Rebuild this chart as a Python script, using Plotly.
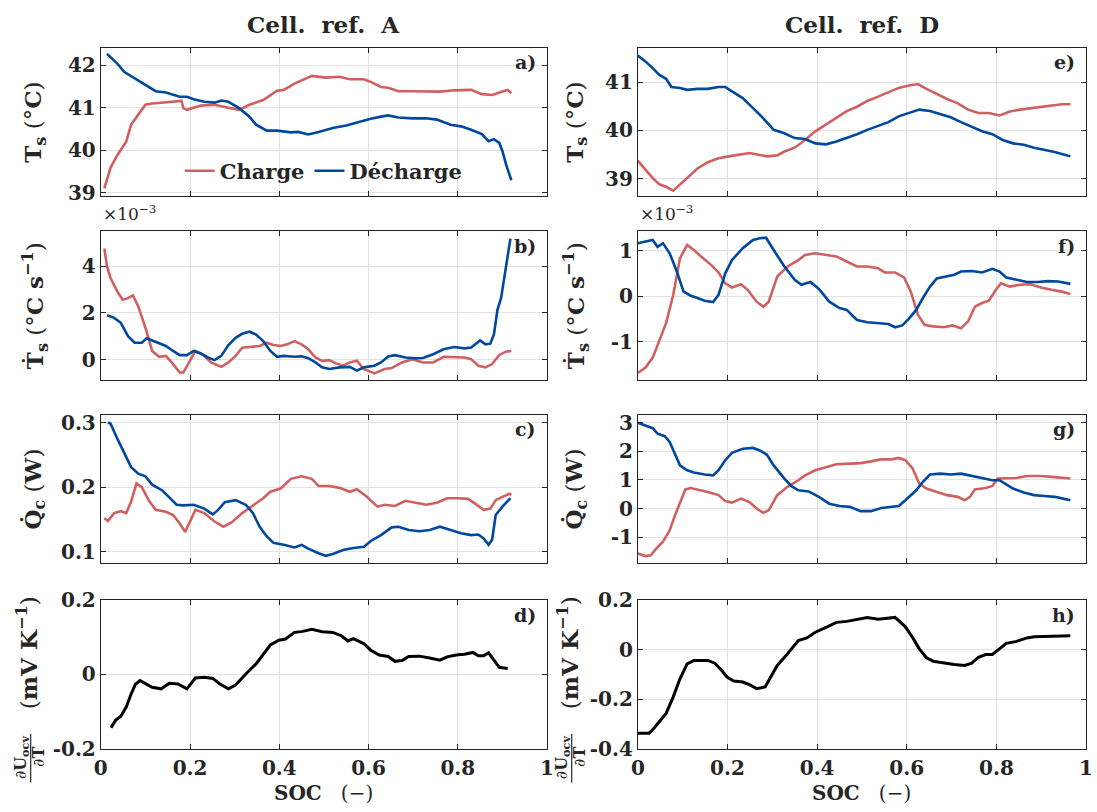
import plotly.graph_objects as go

# ---------------- data ----------------
SOC_TICKS = [0, 0.2, 0.4, 0.6, 0.8, 1]
SOC_TICKTEXT = ["0", "0.2", "0.4", "0.6", "0.8", "1"]

# Cell A - surface temperature (degC)
A_T_charge_soc = [0.008,0.022,0.037,0.057,0.068,0.084,0.100,0.115,0.138,0.170,0.181,0.185,0.193,0.224,0.255,0.286,0.310,0.333,0.364,0.395,0.410,0.434,0.457,0.473,0.504,0.535,0.558,0.589,0.605,0.628,0.644,0.667,0.698,0.729,0.760,0.792,0.830,0.854,0.877,0.900,0.912,0.920]
A_T_charge = [39.10,39.59,39.88,40.20,40.60,40.83,41.07,41.10,41.12,41.16,41.16,40.99,40.95,41.05,41.07,41.00,40.95,41.07,41.18,41.40,41.42,41.57,41.67,41.75,41.71,41.73,41.67,41.67,41.61,41.49,41.47,41.39,41.39,41.38,41.38,41.41,41.42,41.32,41.30,41.38,41.42,41.34]
A_T_dis_soc = [0.014,0.037,0.053,0.076,0.100,0.123,0.146,0.177,0.193,0.208,0.232,0.255,0.270,0.286,0.310,0.333,0.348,0.372,0.395,0.426,0.442,0.465,0.488,0.520,0.550,0.582,0.605,0.628,0.644,0.667,0.698,0.729,0.753,0.784,0.807,0.830,0.854,0.869,0.881,0.893,0.900,0.908,0.920]
A_T_dis = [42.27,42.04,41.84,41.69,41.55,41.39,41.36,41.26,41.26,41.20,41.14,41.12,41.17,41.14,40.99,40.79,40.60,40.46,40.46,40.42,40.43,40.37,40.43,40.52,40.58,40.68,40.74,40.79,40.82,40.77,40.75,40.75,40.72,40.60,40.56,40.48,40.38,40.21,40.26,40.17,39.98,39.67,39.29]

# Cell A - dT/dt (x1e-3 degC/s)
A_Tdot_charge_soc = [0.008,0.014,0.022,0.037,0.049,0.061,0.072,0.084,0.100,0.115,0.131,0.146,0.162,0.177,0.185,0.197,0.212,0.228,0.247,0.270,0.286,0.302,0.317,0.333,0.356,0.372,0.387,0.403,0.418,0.434,0.450,0.465,0.481,0.496,0.512,0.527,0.543,0.558,0.574,0.589,0.613,0.636,0.652,0.675,0.698,0.722,0.745,0.768,0.792,0.815,0.830,0.846,0.862,0.877,0.893,0.908,0.920]
A_Tdot_charge = [4.75,3.97,3.48,2.92,2.56,2.63,2.75,2.28,1.37,0.38,0.13,0.17,-0.18,-0.54,-0.54,-0.11,0.38,0.24,-0.11,-0.30,-0.11,0.17,0.52,0.55,0.59,0.73,0.63,0.59,0.66,0.80,0.66,0.45,0.10,-0.04,-0.01,-0.15,-0.25,-0.11,-0.04,-0.39,-0.58,-0.39,-0.35,-0.11,0.03,-0.11,-0.11,0.13,0.13,0.10,0.03,-0.25,-0.32,-0.18,0.21,0.35,0.38]
A_Tdot_dis_soc = [0.014,0.030,0.045,0.061,0.076,0.092,0.103,0.123,0.146,0.162,0.177,0.193,0.208,0.224,0.240,0.255,0.270,0.286,0.302,0.317,0.333,0.348,0.364,0.380,0.395,0.410,0.434,0.450,0.465,0.481,0.496,0.512,0.535,0.558,0.574,0.589,0.613,0.628,0.644,0.659,0.683,0.706,0.722,0.745,0.768,0.792,0.815,0.830,0.850,0.862,0.873,0.881,0.889,0.897,0.904,0.912,0.918]
A_Tdot_dis = [1.90,1.79,1.58,1.01,0.73,0.73,0.92,0.76,0.59,0.38,0.20,0.20,0.38,0.27,0.10,-0.01,0.17,0.63,0.94,1.11,1.20,1.08,0.80,0.38,0.13,0.17,0.13,0.15,0.07,-0.11,-0.32,-0.39,-0.32,-0.30,-0.46,-0.32,-0.25,-0.11,0.14,0.20,0.10,0.07,0.08,0.24,0.45,0.55,0.49,0.53,0.83,0.66,0.69,1.08,2.14,2.63,3.55,4.46,5.17]

# Cell A - heat (W)
A_Q_charge_soc = [0.008,0.016,0.030,0.045,0.057,0.068,0.080,0.092,0.107,0.123,0.146,0.162,0.177,0.189,0.200,0.212,0.232,0.255,0.275,0.294,0.317,0.341,0.364,0.380,0.403,0.426,0.450,0.473,0.488,0.512,0.535,0.558,0.574,0.597,0.620,0.636,0.659,0.683,0.706,0.729,0.753,0.776,0.800,0.823,0.838,0.858,0.873,0.885,0.900,0.916,0.920]
A_Q_charge = [0.152,0.148,0.160,0.163,0.160,0.178,0.206,0.200,0.180,0.165,0.162,0.157,0.144,0.131,0.147,0.165,0.160,0.147,0.139,0.146,0.160,0.172,0.183,0.193,0.198,0.213,0.217,0.213,0.202,0.202,0.199,0.193,0.197,0.185,0.170,0.173,0.171,0.179,0.176,0.173,0.176,0.183,0.183,0.182,0.175,0.165,0.167,0.180,0.185,0.190,0.188]
A_Q_dis_soc = [0.016,0.022,0.037,0.053,0.068,0.084,0.100,0.115,0.138,0.154,0.170,0.185,0.208,0.232,0.251,0.263,0.278,0.302,0.325,0.341,0.356,0.372,0.387,0.410,0.434,0.450,0.465,0.488,0.504,0.520,0.543,0.566,0.590,0.605,0.628,0.652,0.667,0.690,0.714,0.737,0.760,0.784,0.807,0.830,0.846,0.858,0.869,0.877,0.885,0.900,0.918]
A_Q_dis = [0.300,0.298,0.275,0.252,0.231,0.221,0.217,0.204,0.195,0.184,0.173,0.172,0.173,0.167,0.158,0.165,0.177,0.180,0.173,0.160,0.139,0.124,0.114,0.111,0.107,0.111,0.105,0.098,0.094,0.097,0.103,0.106,0.108,0.117,0.126,0.138,0.139,0.134,0.132,0.134,0.139,0.134,0.129,0.126,0.127,0.121,0.111,0.119,0.157,0.170,0.183]

# Cell A - entropic coefficient (mV/K)
A_dU_soc = [0.023,0.033,0.045,0.057,0.068,0.078,0.088,0.100,0.115,0.135,0.154,0.173,0.193,0.212,0.232,0.251,0.267,0.286,0.302,0.325,0.348,0.364,0.380,0.399,0.414,0.434,0.450,0.473,0.496,0.520,0.539,0.554,0.566,0.589,0.605,0.624,0.644,0.659,0.675,0.690,0.714,0.737,0.760,0.776,0.800,0.815,0.834,0.846,0.858,0.869,0.881,0.893,0.912]
A_dU = [-0.144,-0.124,-0.113,-0.088,-0.053,-0.026,-0.017,-0.026,-0.035,-0.039,-0.024,-0.026,-0.039,-0.010,-0.008,-0.011,-0.026,-0.039,-0.029,0.001,0.028,0.054,0.079,0.092,0.095,0.113,0.115,0.121,0.115,0.113,0.104,0.090,0.096,0.083,0.065,0.052,0.048,0.035,0.037,0.048,0.049,0.044,0.038,0.047,0.053,0.054,0.059,0.050,0.050,0.058,0.037,0.019,0.016]

# Cell D - surface temperature (degC)
D_T_charge_soc = [0.000,0.017,0.033,0.048,0.063,0.079,0.094,0.110,0.133,0.156,0.180,0.203,0.226,0.249,0.272,0.288,0.311,0.327,0.350,0.373,0.396,0.420,0.443,0.466,0.489,0.512,0.536,0.559,0.582,0.605,0.625,0.644,0.667,0.690,0.714,0.737,0.760,0.783,0.807,0.830,0.853,0.884,0.915,0.946,0.965]
D_T_charge = [39.37,39.18,39.01,38.88,38.83,38.75,38.88,39.01,39.21,39.34,39.42,39.46,39.49,39.53,39.49,39.46,39.48,39.56,39.64,39.80,39.98,40.13,40.27,40.40,40.49,40.61,40.70,40.79,40.88,40.93,40.96,40.86,40.75,40.65,40.56,40.43,40.36,40.36,40.31,40.39,40.43,40.47,40.51,40.54,40.54]
D_T_dis_soc = [0.000,0.017,0.033,0.048,0.063,0.075,0.094,0.110,0.133,0.156,0.180,0.195,0.210,0.234,0.257,0.280,0.303,0.327,0.350,0.373,0.396,0.420,0.443,0.466,0.489,0.512,0.536,0.559,0.582,0.605,0.628,0.652,0.675,0.698,0.721,0.745,0.768,0.791,0.814,0.837,0.861,0.884,0.907,0.930,0.954,0.965]
D_T_dis = [41.55,41.43,41.29,41.15,41.07,40.90,40.88,40.84,40.86,40.86,40.90,40.90,40.81,40.67,40.46,40.25,40.01,39.94,39.84,39.82,39.73,39.71,39.77,39.84,39.92,40.01,40.10,40.17,40.29,40.36,40.43,40.40,40.34,40.27,40.17,40.08,39.98,39.92,39.80,39.73,39.70,39.64,39.60,39.55,39.49,39.46]

# Cell D - dT/dt (x1e-3 degC/s)
D_Tdot_charge_soc = [0.000,0.017,0.033,0.048,0.063,0.079,0.094,0.110,0.125,0.141,0.164,0.180,0.195,0.210,0.230,0.245,0.265,0.280,0.292,0.311,0.334,0.358,0.373,0.396,0.420,0.443,0.466,0.489,0.512,0.536,0.551,0.574,0.594,0.609,0.625,0.640,0.659,0.683,0.702,0.721,0.737,0.752,0.768,0.783,0.799,0.810,0.830,0.853,0.876,0.899,0.923,0.946,0.965]
D_Tdot_charge = [-1.68,-1.56,-1.35,-0.95,-0.59,0.03,0.83,1.12,1.01,0.87,0.68,0.52,0.28,0.19,0.26,0.14,-0.12,-0.23,-0.12,0.43,0.65,0.79,0.90,0.94,0.90,0.87,0.76,0.65,0.65,0.61,0.52,0.52,0.41,0.10,-0.41,-0.63,-0.66,-0.68,-0.64,-0.70,-0.55,-0.23,-0.15,-0.10,0.14,0.28,0.21,0.25,0.26,0.19,0.14,0.10,0.05]
D_Tdot_dis_soc = [0.000,0.017,0.033,0.044,0.056,0.071,0.087,0.102,0.118,0.133,0.149,0.168,0.180,0.195,0.210,0.234,0.257,0.272,0.286,0.303,0.327,0.350,0.365,0.385,0.404,0.427,0.450,0.466,0.489,0.512,0.536,0.559,0.574,0.590,0.605,0.621,0.636,0.652,0.667,0.690,0.706,0.721,0.745,0.768,0.791,0.807,0.822,0.845,0.868,0.892,0.915,0.938,0.965]
D_Tdot_dis = [1.16,1.19,1.23,1.08,1.16,0.94,0.54,0.10,0.01,-0.04,-0.10,-0.13,0.03,0.50,0.79,1.05,1.23,1.27,1.28,1.01,0.65,0.36,0.25,0.31,0.16,-0.12,-0.26,-0.30,-0.52,-0.57,-0.59,-0.61,-0.68,-0.64,-0.49,-0.30,-0.04,0.21,0.39,0.43,0.47,0.54,0.55,0.52,0.60,0.54,0.41,0.36,0.31,0.31,0.33,0.32,0.27]

# Cell D - heat (W)
D_Q_charge_soc = [0.000,0.017,0.029,0.040,0.056,0.071,0.083,0.094,0.106,0.118,0.133,0.156,0.180,0.195,0.210,0.230,0.249,0.265,0.280,0.292,0.311,0.334,0.358,0.373,0.396,0.420,0.443,0.473,0.497,0.520,0.543,0.566,0.582,0.597,0.613,0.628,0.644,0.667,0.690,0.714,0.729,0.741,0.752,0.776,0.791,0.803,0.822,0.845,0.868,0.899,0.930,0.965]
D_Q_charge = [-1.57,-1.66,-1.63,-1.42,-1.16,-0.76,-0.23,0.23,0.67,0.72,0.67,0.58,0.47,0.26,0.21,0.35,0.23,0.00,-0.15,-0.06,0.47,0.76,0.99,1.16,1.34,1.45,1.55,1.57,1.59,1.65,1.72,1.72,1.77,1.69,1.40,0.87,0.70,0.58,0.47,0.41,0.29,0.41,0.67,0.72,0.79,1.05,1.07,1.07,1.14,1.14,1.10,1.05]
D_Q_dis_soc = [0.000,0.017,0.033,0.044,0.060,0.071,0.083,0.094,0.110,0.125,0.149,0.168,0.180,0.195,0.210,0.234,0.257,0.272,0.288,0.303,0.327,0.342,0.358,0.381,0.404,0.427,0.450,0.473,0.497,0.520,0.543,0.566,0.582,0.597,0.621,0.636,0.652,0.675,0.698,0.721,0.745,0.768,0.791,0.807,0.822,0.837,0.861,0.884,0.907,0.930,0.954,0.965]
D_Q_dis = [3.00,2.91,2.81,2.62,2.53,2.33,1.92,1.51,1.34,1.26,1.19,1.16,1.34,1.69,1.95,2.09,2.12,2.03,1.88,1.51,1.05,0.79,0.64,0.60,0.41,0.17,0.09,0.06,-0.09,-0.09,0.02,0.06,0.09,0.29,0.64,0.93,1.19,1.22,1.19,1.22,1.14,1.05,0.99,0.99,0.84,0.70,0.56,0.47,0.44,0.41,0.33,0.29]

# Cell D - entropic coefficient (mV/K)
D_dU_soc = [0.000,0.025,0.036,0.048,0.063,0.079,0.094,0.110,0.125,0.156,0.172,0.187,0.199,0.214,0.234,0.249,0.265,0.284,0.296,0.311,0.334,0.358,0.377,0.396,0.420,0.443,0.466,0.489,0.512,0.536,0.555,0.574,0.597,0.613,0.628,0.644,0.659,0.683,0.706,0.729,0.745,0.760,0.776,0.791,0.807,0.822,0.845,0.868,0.884,0.915,0.938,0.965]
D_dU = [-0.338,-0.338,-0.318,-0.292,-0.258,-0.191,-0.118,-0.058,-0.044,-0.044,-0.055,-0.084,-0.111,-0.127,-0.131,-0.142,-0.158,-0.151,-0.111,-0.064,-0.017,0.036,0.047,0.070,0.090,0.110,0.114,0.123,0.130,0.123,0.126,0.130,0.092,0.049,0.003,-0.033,-0.047,-0.055,-0.060,-0.064,-0.055,-0.031,-0.020,-0.020,0.003,0.025,0.033,0.047,0.052,0.054,0.054,0.056]

# y tick values / labels per panel
TICKS_A_T = [39, 40, 41, 42];        TXT_A_T = ["39", "40", "41", "42"]
TICKS_A_TD = [0, 2, 4];              TXT_A_TD = ["0", "2", "4"]
TICKS_A_Q = [0.1, 0.2, 0.3];         TXT_A_Q = ["0.1", "0.2", "0.3"]
TICKS_A_DU = [-0.2, 0, 0.2];         TXT_A_DU = ["-0.2", "0", "0.2"]
TICKS_D_T = [39, 40, 41];            TXT_D_T = ["39", "40", "41"]
TICKS_D_TD = [-1, 0, 1];             TXT_D_TD = ["-1", "0", "1"]
TICKS_D_Q = [-1, 0, 1, 2, 3];        TXT_D_Q = ["-1", "0", "1", "2", "3"]
TICKS_D_DU = [-0.4, -0.2, 0, 0.2];   TXT_D_DU = ["-0.4", "-0.2", "0", "0.2"]

# ---------------- styling ----------------
W, H = 1097, 812
RED = "rgb(208,96,96)"
BLUE = "rgb(0,71,158)"
BLACK = "#000000"
AXC = "#262626"
GRIDC = "#E2E2E2"
FONT = "DejaVu Serif"

COLS = {"L": (95, 547), "R": (639, 1093)}
ROWS = [(37, 190), (226, 379), (415, 568), (606, 759)]


def fx(p):
    return p / W


def fy(p):
    return 1 - p / H


def bold(lst):
    return ["<b>%s</b>" % t for t in lst]


panels = [
    (1, "L", 0, [38.91, 42.41], TICKS_A_T, TXT_A_T, "a)",
     [(A_T_charge_soc, A_T_charge, RED, "Charge"), (A_T_dis_soc, A_T_dis, BLUE, "Décharge")]),
    (2, "L", 1, [-0.85, 5.48], TICKS_A_TD, TXT_A_TD, "b)",
     [(A_Tdot_charge_soc, A_Tdot_charge, RED, "Charge"), (A_Tdot_dis_soc, A_Tdot_dis, BLUE, "Décharge")]),
    (3, "L", 2, [0.0826, 0.312], TICKS_A_Q, TXT_A_Q, "c)",
     [(A_Q_charge_soc, A_Q_charge, RED, "Charge"), (A_Q_dis_soc, A_Q_dis, BLUE, "Décharge")]),
    (4, "L", 3, [-0.2, 0.2], TICKS_A_DU, TXT_A_DU, "d)",
     [(A_dU_soc, A_dU, BLACK, "dU")]),
    (5, "R", 0, [38.63, 41.71], TICKS_D_T, TXT_D_T, "e)",
     [(D_T_charge_soc, D_T_charge, RED, "Charge"), (D_T_dis_soc, D_T_dis, BLUE, "Décharge")]),
    (6, "R", 1, [-1.83, 1.42], TICKS_D_TD, TXT_D_TD, "f)",
     [(D_Tdot_charge_soc, D_Tdot_charge, RED, "Charge"), (D_Tdot_dis_soc, D_Tdot_dis, BLUE, "Décharge")]),
    (7, "R", 2, [-1.91, 3.28], TICKS_D_Q, TXT_D_Q, "g)",
     [(D_Q_charge_soc, D_Q_charge, RED, "Charge"), (D_Q_dis_soc, D_Q_dis, BLUE, "Décharge")]),
    (8, "R", 3, [-0.4, 0.2], TICKS_D_DU, TXT_D_DU, "h)",
     [(D_dU_soc, D_dU, BLACK, "dU")]),
]

fig = go.Figure()
annotations = []
shapes = []
tickfont = dict(family=FONT, size=20, color=AXC)

for idx, col, row, yr, tv, tt, letter, series in panels:
    sfx = "" if idx == 1 else str(idx)
    x0, x1 = COLS[col]
    y0, y1 = ROWS[row]
    for sx, sy, color, name in series:
        fig.add_trace(go.Scatter(
            x=sx, y=sy, mode="lines", name="<b>%s</b>" % name,
            line=dict(color=color, width=3 if color == BLACK else 2.6),
            xaxis="x" + sfx, yaxis="y" + sfx,
            showlegend=(idx == 1), hoverinfo="skip"))
    common = dict(showline=True, mirror="allticks", linecolor=AXC, linewidth=1,
                  ticks="inside", ticklen=5, tickcolor=AXC, tickwidth=1,
                  showgrid=True, gridcolor=GRIDC, gridwidth=1, zeroline=False,
                  tickfont=tickfont)
    fig.layout["xaxis" + sfx] = dict(
        domain=[fx(x0), fx(x1)], range=[0, 1], anchor="y" + sfx,
        tickvals=SOC_TICKS, ticktext=bold(SOC_TICKTEXT),
        showticklabels=(row == 3), ticklabelstandoff=1, **common)
    fig.layout["yaxis" + sfx] = dict(
        domain=[fy(y1), fy(y0)], range=yr, anchor="x" + sfx,
        tickvals=tv, ticktext=bold(tt), **common)
    annotations.append(dict(text="<b>%s</b>" % letter, x=fx(x1 - 9), y=fy(y0 + 15),
                            xref="paper", yref="paper", xanchor="right", yanchor="middle",
                            showarrow=False, font=dict(family=FONT, size=19, color=AXC)))

for col, name in (("L", "A"), ("R", "D")):
    x0, x1 = COLS[col]
    annotations.append(dict(text="<b>Cell.\u00a0\u00a0ref.\u00a0\u00a0%s</b>" % name,
                            x=fx((x0 + x1) / 2), y=fy(13), xref="paper", yref="paper",
                            xanchor="center", yanchor="middle", showarrow=False,
                            font=dict(family=FONT, size=23, color=AXC)))
    annotations.append(dict(text="<b>SOC</b>\u00a0\u00a0\u00a0(\u2212)",
                            x=fx((x0 + x1) / 2), y=fy(805), xref="paper", yref="paper",
                            xanchor="center", yanchor="middle", showarrow=False,
                            font=dict(family=FONT, size=20, color=AXC)))
    annotations.append(dict(text="\u00d710<sup>\u22123</sup>", x=fx(x0), y=fy(207),
                            xref="paper", yref="paper", xanchor="left", yanchor="middle",
                            showarrow=False, font=dict(family=FONT, size=17, color=AXC)))
    off = 0 if col == "L" else 548
    ylabels = [
        ("<b>T</b><sub><b>s</b></sub> (\u00b0<b>C</b>)", 0),
        ("<b>\u1E6A</b><sub><b>s</b></sub> (\u00b0<b>C s</b><sup><b>\u22121</b></sup>)", 1),
        ("<b>Q\u0307</b><sub><b>c</b></sub> (<b>W</b>)", 2),
    ]
    for txt, r in ylabels:
        y0, y1 = ROWS[r]
        annotations.append(dict(text=txt, x=fx(28 + off), y=fy((y0 + y1) / 2),
                                xref="paper", yref="paper", xanchor="center", yanchor="middle",
                                textangle=-90, showarrow=False,
                                font=dict(family=FONT, size=23, color=AXC)))
    annotations.append(dict(text="(<b>mV K</b><sup><b>\u22121</b></sup>)", x=fx(21 + off), y=fy(660),
                            xref="paper", yref="paper", xanchor="center", yanchor="middle",
                            textangle=-90, showarrow=False,
                            font=dict(family=FONT, size=23, color=AXC)))
    annotations.append(dict(text="\u2202<b>U</b><sub><b>ocv</b></sub>", x=fx(14 + off), y=fy(768),
                            xref="paper", yref="paper", xanchor="center", yanchor="middle",
                            textangle=-90, showarrow=False,
                            font=dict(family=FONT, size=16, color=AXC)))
    annotations.append(dict(text="\u2202<b>T</b>", x=fx(32 + off), y=fy(768),
                            xref="paper", yref="paper", xanchor="center", yanchor="middle",
                            textangle=-90, showarrow=False,
                            font=dict(family=FONT, size=16, color=AXC)))
    shapes.append(dict(type="line", xref="paper", yref="paper",
                       x0=fx(24 + off), x1=fx(24 + off), y0=fy(744), y1=fy(794),
                       line=dict(color=AXC, width=1.2)))

fig.update_layout(
    width=W, height=H,
    margin=dict(l=0, r=0, t=0, b=0),
    paper_bgcolor="white", plot_bgcolor="white",
    font=dict(family=FONT, color=AXC),
    annotations=annotations, shapes=shapes,
    showlegend=True,
    legend=dict(orientation="h", x=fx(175), y=fy(164), xanchor="left", yanchor="middle",
                bgcolor="rgba(0,0,0,0)", borderwidth=0,
                font=dict(family=FONT, size=21, color=AXC),
                itemwidth=30, tracegroupgap=0),
)

fig.write_html("out.html", config={"displayModeBar": False},
               post_script="document.body.style.margin='0';document.body.style.overflow='hidden';")
